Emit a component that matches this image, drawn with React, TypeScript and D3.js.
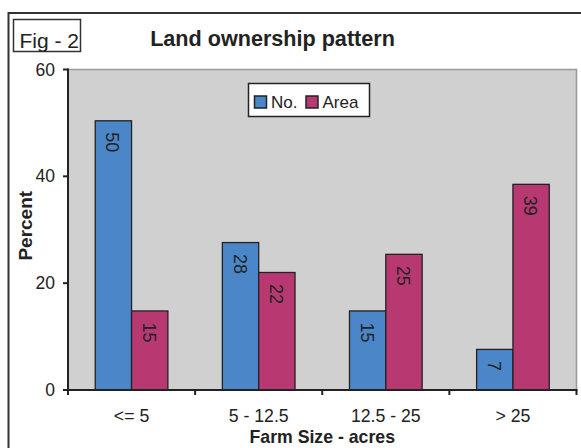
import React from "react";
import * as d3 from "d3";

const categories = ["<= 5", "5 - 12.5", "12.5 - 25", "> 25"];
const seriesNames = ["No.", "Area"];
const noValues = [50.4, 27.6, 14.8, 7.6];
const areaValues = [14.8, 22.0, 25.4, 38.5];
const noLabels = ["50", "28", "15", "7"];
const areaLabels = ["15", "22", "25", "39"];
const yTicks = [0, 20, 40, 60];
const colors = ["#4a86c8", "#b83872"];

const W = 581;
const H = 448;
const plot = { left: 68, right: 576.5, top: 69.5, bottom: 390 };
const font = "Liberation Sans, Arial, sans-serif";

export default function App() {
  const x = d3.scaleBand<string>().domain(categories).range([plot.left, plot.right]).paddingInner(0).paddingOuter(0);
  const y = d3.scaleLinear().domain([0, 60]).range([plot.bottom, plot.top]);
  const catW = x.bandwidth();
  const barW = catW / 3.5;
  const inner = d3.scaleBand<string>().domain(seriesNames).range([0, barW * 2]);
  const series = [
    { name: seriesNames[0], values: noValues, labels: noLabels, color: colors[0] },
    { name: seriesNames[1], values: areaValues, labels: areaLabels, color: colors[1] },
  ];

  return (
    <svg width={W} height={H} style={{ position: "absolute", left: 0, top: 0, background: "#fff" }} fontFamily={font}>
      <rect x={0} y={0} width={W} height={H} fill="#fff" />
      {/* outer frame */}
      <rect x={8.5} y={13} width={W + 20} height={H + 20} fill="none" stroke="#333" strokeWidth={2} />
      {/* Fig box */}
      <rect x={13.5} y={19.5} width={67} height={32} fill="none" stroke="#333" strokeWidth={1.5} />
      <text x={19.5} y={47.5} fontSize={21} fill="#222">Fig - 2</text>
      <text x={272.5} y={45.5} fontSize={21.6} fontWeight="bold" textAnchor="middle" fill="#222">Land ownership pattern</text>

      {/* plot area */}
      <rect x={plot.left} y={plot.top} width={plot.right - plot.left} height={plot.bottom - plot.top} fill="#d0d0d0" stroke="#9a9a9a" strokeWidth={1.5} />

      {/* bars */}
      {series.map((s) =>
        categories.map((c, i) => {
          const bx = (x(c) as number) + catW / 2 - barW + (inner(s.name) as number);
          const by = y(s.values[i]);
          const bh = plot.bottom - by;
          const cx = bx + barW / 2 - 1;
          const ly = by + 11.5;
          return (
            <g key={s.name + c}>
              <rect x={bx} y={by} width={barW} height={bh} fill={s.color} stroke="#222" strokeWidth={1.3} />
              <text
                x={cx}
                y={ly}
                fontSize={18}
                fill="#222"
                textAnchor="start"
                dominantBaseline="central"
                transform={`rotate(90, ${cx}, ${ly})`}
              >
                {s.labels[i]}
              </text>
            </g>
          );
        })
      )}

      {/* y axis */}
      <line x1={plot.left} x2={plot.left} y1={plot.top - 1} y2={plot.bottom + 1} stroke="#222" strokeWidth={2} />
      {yTicks.map((t) => (
        <g key={t}>
          <line x1={plot.left - 5} x2={plot.left} y1={y(t)} y2={y(t)} stroke="#222" strokeWidth={2} />
          <text x={55} y={y(t)} fontSize={17.5} textAnchor="end" dominantBaseline="central" fill="#222">{t}</text>
        </g>
      ))}
      <text
        transform={`translate(32, ${(plot.top + plot.bottom) / 2 - 4}) rotate(-90)`}
        fontSize={19}
        fontWeight="bold"
        textAnchor="middle"
        fill="#222"
      >
        Percent
      </text>

      {/* x axis */}
      <line x1={plot.left - 2} x2={plot.right + 1} y1={plot.bottom} y2={plot.bottom} stroke="#222" strokeWidth={2} />
      {[...categories.map((c) => x(c) as number), plot.right].map((tx, i) => (
        <line key={i} x1={tx} x2={tx} y1={plot.bottom} y2={plot.bottom + 5} stroke="#222" strokeWidth={2} />
      ))}
      {categories.map((c) => (
        <text key={c} x={(x(c) as number) + catW / 2} y={421.5} fontSize={17.7} textAnchor="middle" fill="#222">{c}</text>
      ))}
      <text x={(plot.left + plot.right) / 2} y={443} fontSize={17.7} fontWeight="bold" textAnchor="middle" fill="#222">Farm Size - acres</text>

      {/* legend */}
      <rect x={248.5} y={83.5} width={121} height={33} fill="#fff" stroke="#222" strokeWidth={1.5} />
      {series.map((s, i) => {
        const lx = i === 0 ? 254.5 : 306;
        return (
          <g key={s.name}>
            <rect x={lx} y={96} width={12} height={12} fill={s.color} stroke="#222" strokeWidth={1.5} />
            <text x={lx + 16.5} y={108} fontSize={17} fill="#222">{s.name}</text>
          </g>
        );
      })}
    </svg>
  );
}
